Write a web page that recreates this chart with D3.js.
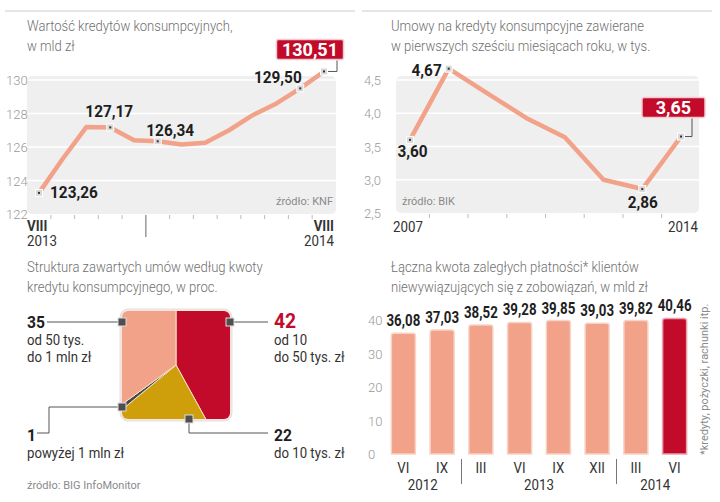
<!DOCTYPE html>
<html lang="pl">
<head>
  <meta charset="utf-8">
  <title>Kredyty konsumpcyjne</title>
  <script src="https://cdn.jsdelivr.net/npm/d3@7"></script>
  <style>
    body { margin: 0; background: #fff; }
    text { font-family: Roboto, "Liberation Sans", sans-serif; }
    .title { fill: #707070; font-size: 14.5px; font-weight: 300; }
    .tick-label { fill: #9a9a9a; font-size: 13px; font-weight: 300; }
    .axis-label { fill: #333; font-size: 14px; }
    .value { fill: #1e1e1e; font-size: 16px; font-weight: bold; }
    .source { fill: #8a8a8a; font-size: 11px; }
    .pie-text { fill: #333; font-size: 15px; }
  </style>
</head>
<body>
<script>
  // --- data ---
  var creditMonths = ["VIII","IX","X","XI","XII","I","II","III","IV","V","VI","VII","VIII"];
  var creditValues = [123.26, 125.3, 127.2, 127.17, 126.4, 126.34, 126.15, 126.25, 127.0, 127.9, 128.6, 129.50, 130.51];
  var creditTicks  = [122, 124, 126, 128, 130];

  var contractYears  = [2007, 2008, 2009, 2010, 2011, 2012, 2013, 2014];
  var contractValues = [3.60, 4.67, 4.30, 3.93, 3.64, 3.00, 2.86, 3.65];
  var contractTicks  = [2.5, 3.0, 3.5, 4.0, 4.5];

  var pieShares = [42, 22, 1, 35];
  var pieNames  = ["od 10|do 50 tys. zł", "do 10 tys. zł", "powyżej 1 mln zł", "od 50 tys.|do 1 mln zł"];

  var debtMonths = ["VI","IX","III","VI","IX","XII","III","VI"];
  var debtYears  = ["2012","2012","2013","2013","2013","2013","2014","2014"];
  var debtValues = [36.08, 37.03, 38.52, 39.28, 39.85, 39.03, 39.82, 40.46];
  var debtTicks  = [0, 10, 20, 30, 40];

  var salmon = "#f1a288", red = "#c20b2b", gold = "#cf9f0b";
  var fmt = function(v, d) { return v.toFixed(d).replace(".", ","); };

  // no condensed font installed, so squeeze glyphs horizontally
  function squeeze(sel, k) {
    sel.each(function() {
      var w = this.getComputedTextLength();
      d3.select(this).attr("textLength", w * k).attr("lengthAdjust", "spacingAndGlyphs");
    });
    return sel;
  }

  var svg = d3.select("body").append("svg")
    .attr("width", 720)
    .attr("height", 502);

  // top rules
  svg.append("line").attr("x1", 5).attr("x2", 355).attr("y1", 11).attr("y2", 11)
    .attr("stroke", "#dcdcdc").attr("stroke-width", 1.5);
  svg.append("line").attr("x1", 362).attr("x2", 712).attr("y1", 11).attr("y2", 11)
    .attr("stroke", "#dcdcdc").attr("stroke-width", 1.5);

  function title(x, y, lines) {
    lines.forEach(function(l, i) {
      squeeze(svg.append("text").attr("class", "title").attr("x", x).attr("y", y + i * 20).text(l), 0.9);
    });
  }

  function marker(g, x, y) {
    g.append("rect").attr("x", x - 3.5).attr("y", y - 3.5).attr("width", 7).attr("height", 7)
      .attr("fill", "#d8d8d8").attr("stroke", "#fff").attr("stroke-width", 1);
    g.append("rect").attr("x", x - 1).attr("y", y - 1).attr("width", 2).attr("height", 2).attr("fill", "#333");
  }

  function redBox(g, cx, cy, label, px, py, elbowX) {
    var t = g.append("text").attr("x", cx).attr("y", cy + 6.5).attr("text-anchor", "middle")
      .attr("fill", "#fff").attr("font-size", "18px").attr("font-weight", "bold").text(label);
    var len = t.node().getComputedTextLength();
    var w = Math.max(len + 11, 63);
    g.insert("rect", "text").attr("x", cx - w / 2).attr("y", cy - 10).attr("width", w).attr("height", 20)
      .attr("rx", 2).attr("fill", red).attr("stroke", "#f3c9cf").attr("stroke-width", 1.5);
    g.append("path").attr("d", "M" + (px + 4) + "," + py + "H" + elbowX + "V" + (cy + 11))
      .attr("fill", "none").attr("stroke", "#555").attr("stroke-width", 1);
  }

  // generic line panel
  function linePanel(o) {
    var g = svg.append("g");
    var x = d3.scaleLinear().domain([0, o.values.length - 1]).range(o.xr);
    var y = d3.scaleLinear().domain(d3.extent(o.ticks)).range(o.yr);

    g.append("rect").attr("x", o.bg[0]).attr("width", o.bg[1] - o.bg[0])
      .attr("y", y(o.ticks[o.ticks.length - 1]) - 4).attr("height", o.yr[0] - o.yr[1] + 4)
      .attr("rx", 5).attr("fill", "#efefef");

    g.selectAll(".grid").data(o.ticks.slice(1)).enter().append("line")
      .attr("x1", o.bg[0]).attr("x2", o.bg[1])
      .attr("y1", function(d) { return y(d); }).attr("y2", function(d) { return y(d); })
      .attr("stroke", "#fff").attr("stroke-width", 1.5);

    g.selectAll(".tl").data(o.ticks).enter().append("text")
      .attr("class", "tick-label").attr("x", o.tickX).attr("y", function(d) { return y(d) + 5; })
      .text(function(d) { return o.tickFmt(d); });

    // small ticks between points
    var mids = d3.range(o.values.length - 1).map(function(i) { return i + 0.5; });
    g.selectAll(".mt").data(mids).enter().append("line")
      .attr("x1", function(d) { return x(d); }).attr("x2", function(d) { return x(d); })
      .attr("y1", o.yr[0] + 1).attr("y2", function(d) { return d === o.divider ? o.yr[0] + 23 : o.yr[0] + 5; })
      .attr("stroke", function(d) { return d === o.divider ? "#666" : "#bbb"; })
      .attr("stroke-width", 1);

    var line = d3.line().x(function(d, i) { return x(i); }).y(function(d) { return y(d); });
    g.append("path").datum(o.values).attr("d", line)
      .attr("fill", "none").attr("stroke", salmon).attr("stroke-width", 4.5)
      .attr("stroke-linejoin", "round").attr("stroke-linecap", "round");

    o.labels.forEach(function(l) {
      var px = x(l.i), py = y(o.values[l.i]);
      marker(g, px, py);
      if (l.box) {
        redBox(g, px + l.dx, py + l.dy, o.valFmt(o.values[l.i]), px, py, l.elbow + px);
      } else {
        squeeze(g.append("text").attr("class", "value").attr("x", px + l.dx).attr("y", py + l.dy)
          .attr("text-anchor", l.anchor).text(o.valFmt(o.values[l.i])), 0.96);
      }
    });

    o.axis.forEach(function(a) {
      squeeze(g.append("text").attr("class", "axis-label").attr("x", a.x).attr("y", a.y)
        .attr("text-anchor", a.anchor).attr("font-weight", a.bold ? "bold" : null).text(a.t), 0.95);
    });

    g.append("text").attr("class", "source").attr("x", o.src.x).attr("y", o.src.y)
      .attr("text-anchor", o.src.anchor).text(o.src.t);
  }

  title(27, 31, ["Wartość kredytów konsumpcyjnych,", "w mld zł"]);
  linePanel({
    values: creditValues, ticks: creditTicks,
    xr: [39, 324], yr: [214, 80], bg: [27, 336], tickX: 6, divider: 4.5,
    tickFmt: function(d) { return d; },
    valFmt: function(v) { return fmt(v, 2); },
    labels: [
      { i: 0, dx: 11, dy: 5, anchor: "start" },
      { i: 3, dx: -1, dy: -10, anchor: "middle" },
      { i: 5, dx: -11.5, dy: -5.5, anchor: "start" },
      { i: 11, dx: 1.5, dy: -5.5, anchor: "end" },
      { i: 12, box: true, dx: -14, dy: -22, elbow: 13 }
    ],
    axis: [
      { t: creditMonths[0], x: 27, y: 231, anchor: "start", bold: true },
      { t: "2013", x: 27, y: 246, anchor: "start" },
      { t: creditMonths[12], x: 334, y: 231, anchor: "end", bold: true },
      { t: "2014", x: 334, y: 246, anchor: "end" }
    ],
    src: { t: "źródło: KNF", x: 333, y: 205, anchor: "end" }
  });

  title(391, 31, ["Umowy na kredyty konsumpcyjne zawierane", "w pierwszych sześciu miesiącach roku, w tys."]);
  linePanel({
    values: contractValues, ticks: contractTicks,
    xr: [410, 681], yr: [213, 80], bg: [396, 699], tickX: 364, divider: -1,
    tickFmt: function(d) { return fmt(d, 1); },
    valFmt: function(v) { return fmt(v, 2); },
    labels: [
      { i: 0, dx: 2.5, dy: 17, anchor: "middle" },
      { i: 1, dx: -7, dy: 7.5, anchor: "end" },
      { i: 6, dx: 0.5, dy: 19, anchor: "middle" },
      { i: 7, box: true, dx: -7.5, dy: -29, elbow: 11 }
    ],
    axis: [
      { t: String(contractYears[0]), x: 393, y: 232, anchor: "start" },
      { t: String(contractYears[7]), x: 698, y: 232, anchor: "end" }
    ],
    src: { t: "źródło: BIK", x: 402, y: 205, anchor: "start" }
  });

  // --- pie in a rounded square ---
  title(27, 272, ["Struktura zawartych umów według kwoty", "kredytu konsumpcyjnego, w proc."]);
  var pg = svg.append("g");
  var cx = 176, cy = 365, half = 54;
  pg.append("defs").append("clipPath").attr("id", "sq").append("rect")
    .attr("x", -half).attr("y", -half).attr("width", 2 * half).attr("height", 2 * half).attr("rx", 6);
  pg.append("rect").attr("x", cx - half - 2).attr("y", cy - half - 2)
    .attr("width", 2 * half + 4).attr("height", 2 * half + 4).attr("rx", 8)
    .attr("fill", "#f7e6df").attr("stroke", "#e6e0dd").attr("stroke-width", 1);
  var arcs = d3.pie().sort(null)(pieShares);
  var arc = d3.arc().innerRadius(0).outerRadius(half * 1.6);
  pg.append("g").attr("clip-path", "url(#sq)").attr("transform", "translate(" + cx + "," + cy + ")")
    .selectAll("path").data(arcs).enter().append("path")
    .attr("d", arc)
    .attr("fill", function(d, i) { return [red, gold, "#4a4a4a", salmon][i]; })
    .attr("stroke", "#f6e3c8").attr("stroke-width", 1);

  var leaders = [
    "M230,322H268",
    "M189,419V433H268",
    "M122,407H49V433H37",
    "M122,322H47"
  ];
  pg.selectAll(".lead").data(leaders).enter().append("path")
    .attr("d", function(d) { return d; }).attr("fill", "none").attr("stroke", "#555").attr("stroke-width", 1);
  [[122, 322], [230, 322], [122, 407], [189, 419]].forEach(function(p) {
    pg.append("rect").attr("x", p[0] - 4).attr("y", p[1] - 4).attr("width", 8).attr("height", 8)
      .attr("fill", "#4f4f4f").attr("stroke", "#ddd").attr("stroke-width", 1);
  });

  var pieText = [
    { i: 0, x: 274, y: 328, big: true },
    { i: 1, x: 274, y: 441 },
    { i: 2, x: 27, y: 441 },
    { i: 3, x: 27, y: 328 }
  ];
  pieText.forEach(function(p) {
    squeeze(pg.append("text").attr("x", p.x).attr("y", p.y)
      .attr("font-weight", "bold").attr("font-size", p.big ? "21px" : "17px")
      .attr("fill", p.big ? red : "#1e1e1e").text(pieShares[p.i]), 0.92);
    pieNames[p.i].split("|").forEach(function(l, k) {
      squeeze(pg.append("text").attr("class", "pie-text").attr("x", p.x).attr("y", p.y + 17 + k * 17).text(l), 0.88);
    });
  });
  svg.append("text").attr("class", "source").attr("x", 27).attr("y", 489).text("źródło: BIG InfoMonitor");

  // --- bars ---
  title(391, 272, ["Łączna kwota zaległych płatności* klientów", "niewywiązujących się z zobowiązań, w mld zł"]);
  var bg = svg.append("g");
  var bx = d3.scaleBand().domain(d3.range(debtValues.length)).range([384, 694])
    .paddingInner(0.38).paddingOuter(0.19);
  var by = d3.scaleLinear().domain([0, 40]).range([454, 320]);

  bg.selectAll(".tl").data(debtTicks).enter().append("text")
    .attr("class", "tick-label").attr("x", 368).attr("y", function(d) { return by(d) + 5; })
    .text(function(d) { return d; });

  bg.selectAll(".bar").data(debtValues).enter().append("path")
    .attr("d", function(d, i) {
      var x0 = bx(i), w = bx.bandwidth(), y0 = by(d), y1 = by(0), r = 2.5;
      return "M" + x0 + "," + y1 + "V" + (y0 + r) + "Q" + x0 + "," + y0 + " " + (x0 + r) + "," + y0 +
        "H" + (x0 + w - r) + "Q" + (x0 + w) + "," + y0 + " " + (x0 + w) + "," + (y0 + r) + "V" + y1 + "Z";
    })
    .attr("fill", function(d, i) { return i === debtValues.length - 1 ? red : salmon; })
    .attr("stroke", function(d, i) { return i === debtValues.length - 1 ? "#e7a3ad" : "#f7d3c6"; })
    .attr("stroke-width", 1.5);

  squeeze(bg.selectAll(".bv").data(debtValues).enter().append("text")
    .attr("class", "value").attr("text-anchor", "middle")
    .attr("x", function(d, i) { return bx(i) + bx.bandwidth() / 2; })
    .attr("y", function(d) { return by(d) - 7; })
    .text(function(d) { return fmt(d, 2); }), 0.83);

  squeeze(bg.selectAll(".bm").data(debtMonths).enter().append("text")
    .attr("class", "axis-label").attr("text-anchor", "middle")
    .attr("x", function(d, i) { return bx(i) + bx.bandwidth() / 2; })
    .attr("y", 473).text(function(d) { return d; }), 0.95);

  var yearGroups = d3.groups(debtYears.map(function(y, i) { return { y: y, i: i }; }), function(d) { return d.y; });
  yearGroups.forEach(function(gr, k) {
    var first = gr[1][0].i, last = gr[1][gr[1].length - 1].i;
    var mid = (bx(first) + bx(last) + bx.bandwidth()) / 2;
    squeeze(bg.append("text").attr("class", "axis-label").attr("text-anchor", "middle")
      .attr("x", mid).attr("y", 490).text(gr[0]), 0.95);
    if (k > 0) {
      var dx = bx(first) - (bx.step() - bx.bandwidth()) / 2;
      bg.append("line").attr("x1", dx).attr("x2", dx).attr("y1", 459).attr("y2", 484)
        .attr("stroke", "#777").attr("stroke-width", 1);
    }
  });

  bg.append("text").attr("class", "source").attr("font-size", "12px")
    .attr("transform", "translate(708,455) rotate(-90)")
    .text("*kredyty, pożyczki, rachunki itp.");
</script>
</body>
</html>
